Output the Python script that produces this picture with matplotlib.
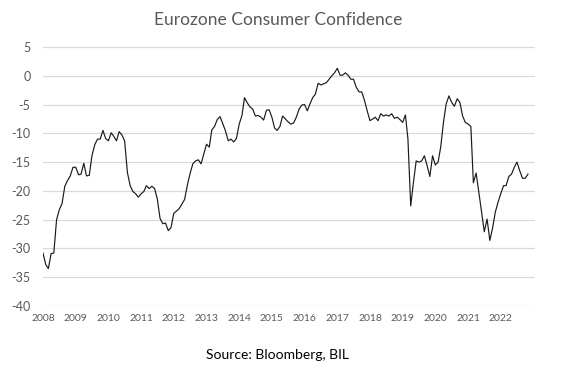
import pandas as pd
import matplotlib
matplotlib.use("Agg")
from matplotlib import pyplot as plt
import matplotlib.dates as mdates

# monthly readings, Jan 2008 .. Nov 2022
confidence = [
    -30.8, -32.8, -33.5, -30.9, -30.8, -25.0, -23.3, -22.2, -19.2, -18.2, -17.4, -15.9,
    -15.9, -17.2, -17.1, -15.2, -17.4, -17.3, -13.9, -12.0, -11.0, -11.0, -9.5, -10.9,
    -11.3, -9.9, -10.5, -11.3, -9.7, -10.3, -11.3, -16.8, -19.1, -20.1, -20.5, -21.1,
    -20.5, -20.1, -19.1, -19.6, -19.2, -19.6, -21.4, -24.8, -25.7, -25.6, -26.9, -26.4,
    -23.9, -23.5, -23.1, -22.3, -21.5, -19.0, -17.0, -15.3, -14.8, -14.6, -15.3, -13.6,
    -11.9, -12.4, -9.4, -8.8, -7.6, -7.1, -8.3, -9.6, -11.3, -11.0, -11.5, -10.9,
    -8.4, -6.9, -3.8, -4.7, -5.4, -5.8, -7.0, -6.9, -7.2, -7.7, -6.0, -5.9,
    -7.2, -9.1, -9.5, -8.8, -7.0, -7.5, -8.0, -8.4, -8.2, -7.2, -5.8, -5.1,
    -5.0, -6.1, -4.9, -3.8, -3.2, -1.3, -1.6, -1.4, -1.2, -0.6, 0.0, 0.5,
    1.3, 0.1, 0.1, 0.5, 0.1, -0.6, -0.6, -2.0, -2.8, -2.8, -4.3, -6.1,
    -7.8, -7.5, -7.2, -7.8, -6.6, -7.0, -6.8, -7.0, -6.6, -7.4, -7.2, -7.6,
    -8.1, -6.8, -11.0, -22.6, -18.6, -14.8, -15.0, -14.8, -13.9, -15.6, -17.5, -13.9,
    -15.5, -15.0, -12.4, -8.1, -4.9, -3.5, -4.6, -5.3, -4.0, -4.6, -7.0, -8.1,
    -8.4, -8.8, -18.6, -16.9, -20.2, -23.7, -27.1, -24.9, -28.6, -26.5, -23.7, -22.0,
    -20.5, -19.1, -19.1, -17.5, -17.1, -15.9, -15.0, -16.5, -17.8, -17.8, -17.1,
]
dates = pd.date_range("2008-01-01", periods=len(confidence), freq="MS")
years = pd.date_range("2008-01-01", "2022-01-01", freq="YS")
y_ticks = list(range(-40, 10, 5))

plt.rcParams["font.family"] = ["Lato", "DejaVu Sans"]
plt.rcParams["axes.unicode_minus"] = False

fig = plt.figure(figsize=(5.67, 3.82), dpi=100)
ax = fig.add_axes([0.0758, 0.199, 0.868, 0.678])

ax.plot(dates, confidence, color="#1a1a1a", lw=0.85)

ax.set_ylim(-40, 5)
ax.set_yticks(y_ticks)
ax.set_xlim(pd.Timestamp("2008-01-01"), pd.Timestamp("2023-01-20"))
ax.set_xticks(years)
ax.xaxis.set_major_formatter(mdates.DateFormatter("%Y"))

ax.grid(axis="y", color="#d9d9d9", lw=0.9)
ax.set_axisbelow(True)
for s in ax.spines.values():
    s.set_visible(False)
ax.tick_params(axis="both", length=0, colors="#595959")
ax.tick_params(axis="y", labelsize=9, pad=9)
ax.tick_params(axis="x", labelsize=7.5, pad=6)

fig.text(0.49, 0.948, "Eurozone Consumer Confidence", ha="center", va="center",
         fontsize=12.5, color="#595959")
fig.text(0.49, 0.07, "Source: Bloomberg, BIL", ha="center", va="center",
         fontsize=10, color="black")

fig.savefig("out.png", dpi=100)
